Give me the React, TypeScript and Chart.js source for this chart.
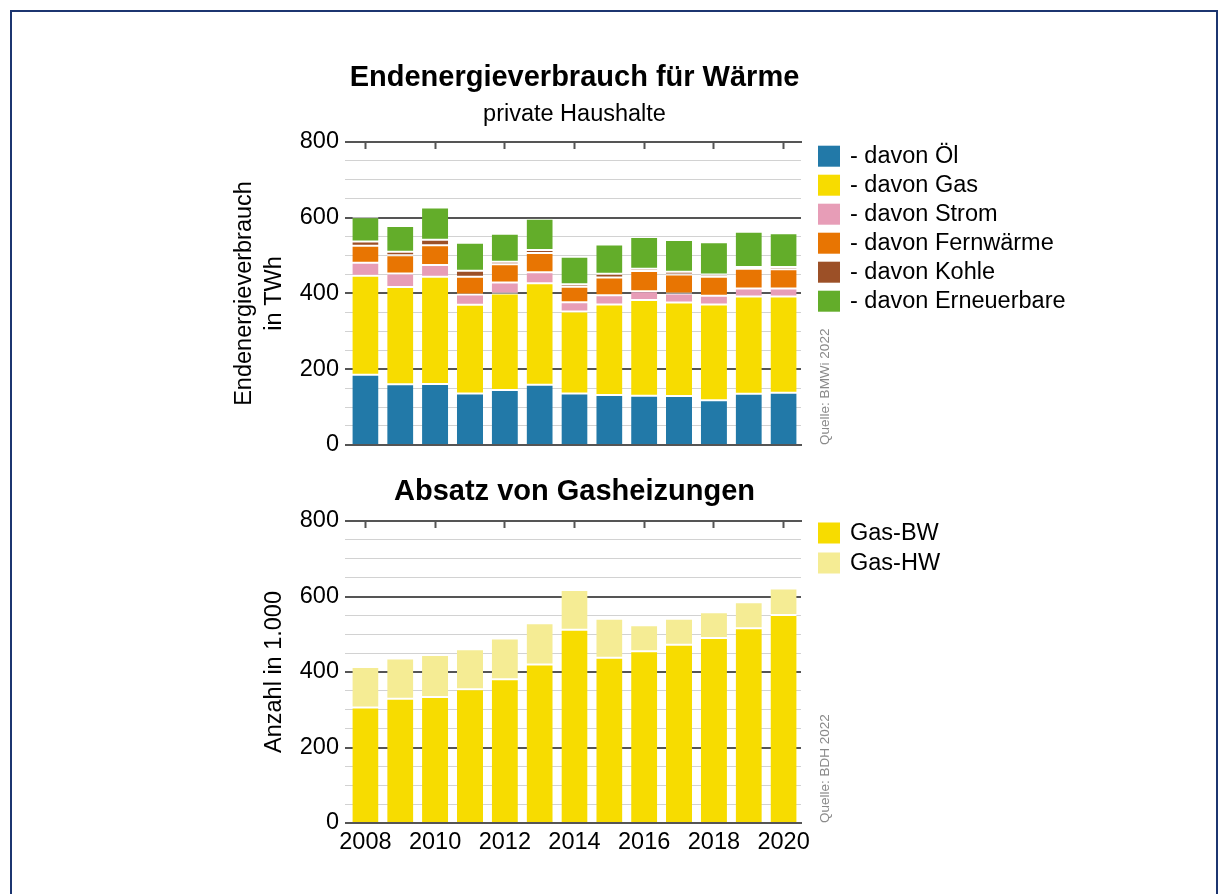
import React, { useEffect, useRef } from 'react';
import { Chart, registerables } from 'chart.js';

Chart.register(...registerables);

// ---------- data ----------
const years = ['2008', '2009', '2010', '2011', '2012', '2013', '2014', '2015', '2016', '2017', '2018', '2019', '2020'];

const oel = [185, 160, 161, 136, 145, 159, 136, 132, 130, 129, 118, 135, 138];
const gas = [262, 257, 283, 234, 255, 268, 216, 239, 253, 247, 253, 257, 254];
const strom = [34, 36, 31, 27, 29, 29, 25, 24, 23, 24, 23, 21, 21];
const fernwaerme = [45, 48, 52, 47, 48, 51, 41, 47, 53, 50, 50, 52, 51];
const kohle = [11, 9, 15, 16, 7, 8, 6, 10, 6, 7, 6, 5, 6];
const erneuerbare = [64, 68, 85, 74, 74, 82, 73, 77, 84, 84, 85, 93, 89];

const gasBW = [306, 329, 334, 354, 381, 420, 512, 438, 455, 472, 490, 516, 551];
const gasHW = [107, 107, 111, 106, 108, 109, 105, 103, 69, 69, 68, 69, 70];

const yTickValues = [0, 200, 400, 600, 800];

// ---------- styling ----------
const FONT = '"Liberation Sans", Arial, Helvetica, sans-serif';
const DARK = '#555555';
const LIGHT = '#d2d2d2';
const C_OEL = '#2279a8';
const C_GAS = '#f7dc00';
const C_STROM = '#e79db7';
const C_FERN = '#e87502';
const C_KOHLE = '#9c5027';
const C_EE = '#63ad2a';
const C_HW = '#f5ec94';

const sourcePlugin = {
  id: 'sourceNote',
  afterDraw(chart: any, _args: any, opts: any) {
    if (!opts || !opts.text) return;
    const { ctx, chartArea } = chart;
    ctx.save();
    ctx.translate(chartArea.right + opts.offset, chartArea.bottom);
    ctx.rotate(-Math.PI / 2);
    ctx.font = `13.5px ${FONT}`;
    ctx.fillStyle = '#8a8a8a';
    ctx.textAlign = 'left';
    ctx.textBaseline = 'middle';
    ctx.fillText(opts.text, 0, 0);
    ctx.restore();
  },
};

const boxLegendPlugin = {
  id: 'boxLegend',
  afterDraw(chart: any, _args: any, opts: any) {
    if (!opts || !opts.display) return;
    const { ctx, chartArea } = chart;
    ctx.save();
    ctx.font = `23.5px ${FONT}`;
    ctx.textBaseline = 'middle';
    ctx.textAlign = 'left';
    chart.data.datasets.forEach((ds: any, i: number) => {
      const x = chartArea.right + opts.dx;
      const y = chartArea.top + opts.dy + i * opts.step;
      ctx.fillStyle = ds.backgroundColor;
      ctx.fillRect(x, y, 22, 21);
      ctx.fillStyle = '#000';
      ctx.fillText(ds.label, x + 32, y + 11);
    });
    ctx.restore();
  },
};

function barDs(label: string, data: number[], color: string, base: boolean) {
  return {
    label,
    data,
    backgroundColor: color,
    borderColor: '#ffffff',
    borderWidth: base ? { top: 1, bottom: 0, left: 0, right: 0 } : { top: 1, bottom: 1, left: 0, right: 0 },
    borderSkipped: false,
    barPercentage: 0.75,
    categoryPercentage: 1,
    xAxisID: 'x',
    yAxisID: 'y',
  };
}

function xScales(showLabels: boolean) {
  const tickColor = (c: any) => (c.index % 2 === 0 ? DARK : 'rgba(0,0,0,0)');
  return {
    x: {
      type: 'category',
      position: 'bottom',
      stacked: true,
      offset: true,
      afterFit: (s: any) => {
        s.height = showLabels ? 40 : 20;
      },
      border: { display: true, color: DARK, width: 2 },
      grid: { offset: false, drawOnChartArea: false, drawTicks: true, tickLength: -7, tickWidth: 2, tickColor },
      ticks: {
        display: showLabels,
        autoSkip: false,
        maxRotation: 0,
        minRotation: 0,
        padding: 12.9,
        color: '#000',
        font: { family: FONT, size: 23.5 },
        callback: (_v: any, i: number) => (i % 2 === 0 ? years[i] : ''),
      },
    },
    x2: {
      type: 'category',
      position: 'top',
      offset: true,
      afterFit: (s: any) => {
        s.height = 0;
      },
      border: { display: true, color: DARK, width: 2 },
      grid: { offset: false, drawOnChartArea: false, drawTicks: true, tickLength: -7, tickWidth: 2, tickColor },
      ticks: { display: false },
    },
  };
}

function yScale(title: string | string[], titlePad: number) {
  return {
    type: 'linear',
    position: 'left',
    stacked: true,
    min: 0,
    max: 800,
    afterFit: (s: any) => {
      s.width = 148;
    },
    border: { display: false },
    grid: {
      color: (c: any) => (c.tick && c.tick.value % 200 === 0 ? DARK : LIGHT),
      lineWidth: (c: any) => (c.tick && c.tick.value % 200 === 0 ? 2 : 1),
      drawTicks: true,
      tickLength: 3,
    },
    ticks: {
      stepSize: 50,
      autoSkip: false,
      padding: 6,
      color: '#000',
      font: { family: FONT, size: 23.5 },
      callback: (v: any) => (yTickValues.includes(Number(v)) ? String(v) : ''),
    },
    title: {
      display: true,
      text: title,
      color: '#000',
      font: { family: FONT, size: 23.5, lineHeight: 30 / 23.5 },
      padding: { top: titlePad, bottom: 0 },
    },
  };
}

const topConfig: any = {
  type: 'bar',
  data: {
    labels: years,
    datasets: [
      barDs('- davon Öl', oel, C_OEL, true),
      barDs('- davon Gas', gas, C_GAS, false),
      barDs('- davon Strom', strom, C_STROM, false),
      barDs('- davon Fernwärme', fernwaerme, C_FERN, false),
      barDs('- davon Kohle', kohle, C_KOHLE, false),
      barDs('- davon Erneuerbare', erneuerbare, C_EE, false),
    ],
  },
  options: {
    animation: false,
    responsive: false,
    layout: { padding: { left: 0, right: 299, top: 0, bottom: 0 } },
    plugins: {
      title: {
        display: true,
        text: 'Endenergieverbrauch für Wärme',
        fullSize: false,
        color: '#000',
        font: { family: FONT, size: 29, weight: 'bold', lineHeight: 1.2 },
        padding: { top: 10.6, bottom: 0 },
      },
      subtitle: {
        display: true,
        text: 'private Haushalte',
        fullSize: false,
        color: '#000',
        font: { family: FONT, size: 23.5, weight: 'normal', lineHeight: 1.2 },
        padding: { top: 5.5, bottom: 12.9 },
      },
      legend: { display: false },
      tooltip: { enabled: false },
      boxLegend: { display: true, dx: 17, dy: 3.7, step: 29 },
      sourceNote: { text: 'Quelle: BMWi 2022', offset: 24 },
    },
    scales: {
      ...xScales(false),
      y: yScale(['Endenergieverbrauch', 'in TWh'], 30),
    },
  },
  plugins: [sourcePlugin, boxLegendPlugin],
};

const bottomConfig: any = {
  type: 'bar',
  data: {
    labels: years,
    datasets: [barDs('Gas-BW', gasBW, C_GAS, true), barDs('Gas-HW', gasHW, C_HW, false)],
  },
  options: {
    animation: false,
    responsive: false,
    layout: { padding: { left: 0, right: 199, top: 0, bottom: 0 } },
    plugins: {
      title: {
        display: true,
        text: 'Absatz von Gasheizungen',
        fullSize: false,
        color: '#000',
        font: { family: FONT, size: 29, weight: 'bold', lineHeight: 1.2 },
        padding: { top: 4.6, bottom: 11.6 },
      },
      legend: { display: false },
      tooltip: { enabled: false },
      boxLegend: { display: true, dx: 17, dy: 1.5, step: 30 },
      sourceNote: { text: 'Quelle: BDH 2022', offset: 24 },
    },
    scales: {
      ...xScales(true),
      y: yScale('Anzahl in 1.000', 60),
    },
  },
  plugins: [sourcePlugin, boxLegendPlugin],
};

function ChartBox({ config, left, top, width, height }: any) {
  const ref = useRef<HTMLCanvasElement>(null);
  useEffect(() => {
    const chart = new Chart(ref.current as HTMLCanvasElement, config);
    return () => chart.destroy();
  }, [config]);
  return (
    <canvas
      ref={ref}
      width={width}
      height={height}
      style={{ position: 'absolute', left, top, width, height, display: 'block' }}
    />
  );
}

export default function App() {
  return (
    <div>
      <div
        style={{
          position: 'absolute',
          left: 10,
          top: 10,
          width: 1208,
          height: 950,
          border: '2px solid #1c3570',
          boxSizing: 'border-box',
          background: '#fff',
        }}
      />
      <ChartBox config={topConfig} left={200} top={50} width={900} height={415} />
      <ChartBox config={bottomConfig} left={200} top={470} width={800} height={393} />
    </div>
  );
}
